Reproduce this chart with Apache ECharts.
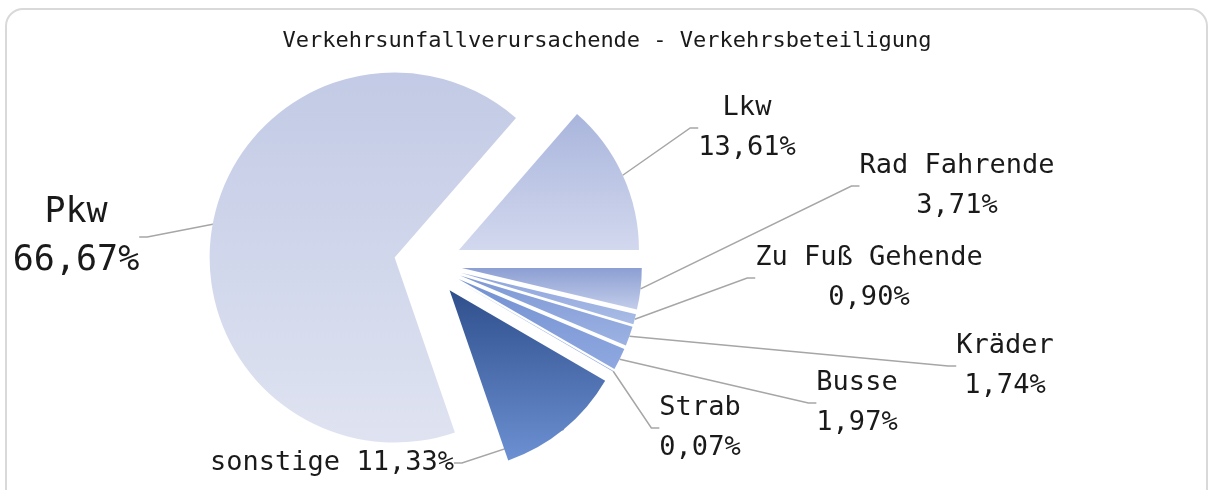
<!DOCTYPE html>
<html>
<head>
<meta charset="utf-8">
<script src="https://cdn.jsdelivr.net/npm/echarts@6/dist/echarts.min.js"></script>
<style>
  html,body{margin:0;padding:0;background:#fff;}
  .frame{position:absolute;left:5px;top:8px;width:1203px;height:500px;border:2px solid #d9d9d9;border-radius:18px;box-sizing:border-box;}
  .chart{position:absolute;left:0;top:0;width:1214px;height:490px;}
</style>
</head>
<body>
<div class="frame"></div>
<div class="chart"></div>
<script>
const chart=echarts.init(document.querySelector(".chart"));

// Daten (Anteile in %)
const names=['Lkw','Rad Fahrende','Zu Fuß Gehende','Kräder','Busse','Strab','sonstige','Pkw'];
const values=[13.61,3.71,0.90,1.74,1.97,0.07,11.33,66.67];
const topColors=['#a9b5dc','#8c9fd3','#8ea5dc','#7d98d4','#7391d1','#6f8dd0','#2f4f8c','#c2cae5'];
const bottomColors=['#d2d8ee','#c3cdea','#a9bce6','#9cb2e3','#8fa8e0','#8aa4df','#6c90d2','#dfe3f1'];

// Beschriftungspositionen (Mitte des Textblocks)
const labelPos=[[747,128],[957,186],[869,278],[1005,366],[857,403],[700,428],[332,463],[76,237]];

const fmt=v=>v.toFixed(2).replace('.',',')+'%';
const center=[428,264];
const offset=34;

// Tortenstücke; "only" bestimmt, welche Stücke sichtbar sind
function slices(only){
  return names.map((n,i)=>({
    name:n,
    value:values[i],
    selected:true,
    itemStyle:{
      color:only(n)?new echarts.graphic.LinearGradient(0,0,0,1,[
        {offset:0,color:topColors[i]},
        {offset:1,color:bottomColors[i]}
      ]):'rgba(0,0,0,0)'
    }
  }));
}

const base={
  type:'pie',
  center:center,
  startAngle:49,
  clockwise:true,
  selectedMode:'multiple',
  selectedOffset:offset,
  emphasis:{scale:false},
  silent:true,
  label:{show:false},
  labelLine:{show:false}
};

chart.setOption({
  animation:false,
  title:{
    text:'Verkehrsunfallverursachende - Verkehrsbeteiligung',
    left:'center',
    top:25,
    textStyle:{
      fontFamily:'DejaVu Sans Mono',
      fontSize:22,
      fontWeight:'normal',
      color:'#1a1a1a'
    }
  },
  series:[
    Object.assign({},base,{radius:[0,185],data:slices(n=>n==='Pkw')}),
    Object.assign({},base,{radius:[0,180],data:slices(n=>n!=='Pkw')}),
    {
      // nur Beschriftungen
      type:'pie',
      center:center,
      startAngle:49,
      clockwise:true,
      radius:[0,180+offset],
      silent:true,
      emphasis:{scale:false},
      itemStyle:{color:'rgba(0,0,0,0)'},
      data:names.map((n,i)=>({
        name:n,
        value:values[i],
        label:n==='Pkw'?{fontSize:35,lineHeight:48}:{}
      })),
      label:{
        show:true,
        fontFamily:'DejaVu Sans Mono',
        fontSize:27,
        lineHeight:40,
        color:'#1a1a1a',
        align:'center',
        formatter:p=>p.name==='sonstige'?p.name+' '+fmt(p.value):p.name+'\n'+fmt(p.value)
      },
      labelLine:{
        show:true,
        length:20,
        length2:8,
        lineStyle:{color:'#a6a6a6',width:1.5}
      },
      labelLayout:function(params){
        const p=labelPos[params.dataIndex];
        return {x:p[0],y:p[1],align:'center',verticalAlign:'middle'};
      }
    }
  ]
});
</script>
</body>
</html>
